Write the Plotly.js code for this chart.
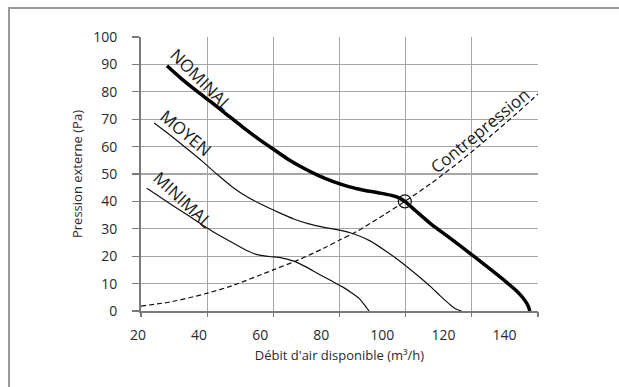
<!DOCTYPE html>
<html>
<head>
<meta charset="utf-8">
<script src="https://cdn.plot.ly/plotly-3.0.1.min.js"></script>
<style>
  html, body { margin: 0; padding: 0; background: #fff; }
  #wrap { position: relative; width: 619px; height: 387px; overflow: hidden; }
  #frame { position: absolute; left: 8px; top: 7px; width: 640px; height: 420px;
           border-top: 2px solid #9a9a9a; border-left: 2px solid #9a9a9a; box-sizing: border-box; }
  #chart { position: absolute; left: 0; top: 0; width: 619px; height: 387px; }
</style>
</head>
<body>
<div id="wrap"><div id="frame"></div><div id="chart"></div></div>
<script>
// ---- data ----
const nominalX = [28.5, 33, 38, 43, 48, 53, 58, 63, 68, 73, 78, 83, 88, 93, 98, 102, 104.5, 106.4, 110, 115, 120, 125, 130, 135, 140, 143, 145.5, 146.7, 147.2, 147.3];
const nominalY = [89.5, 85, 80.5, 76.2, 71.8, 67.4, 63.2, 59.3, 55.5, 52.3, 49.5, 47.2, 45.4, 44.1, 43.1, 42.2, 41.3, 40, 36.5, 31.7, 27.6, 23.4, 19.1, 14.7, 10.2, 7.3, 4.2, 2, 0.5, 0];

const moyenX = [24.3, 30, 35, 40, 45, 50, 55, 60, 65, 70, 75, 80, 85, 90, 95, 100, 105, 110, 115, 118, 121, 123, 125];
const moyenY = [68.6, 63.8, 59.3, 54.7, 49.8, 45.2, 41.5, 38.6, 36, 33.6, 31.8, 30.5, 29.5, 28, 25.6, 22, 18, 13.5, 8.7, 5.5, 2.5, 0.8, 0];

const minimalX = [21.9, 26, 30, 35, 40, 45, 50, 55, 58, 62, 66, 70, 74, 78, 82, 86, 89, 91.5, 93, 94, 94.7];
const minimalY = [44.8, 41.8, 38.8, 35.2, 31.5, 28, 24.9, 21.9, 20.6, 19.9, 19.4, 18.2, 16.1, 13.6, 11.2, 8.8, 6.6, 4.5, 2.5, 1, 0];

const contreX = [20, 30, 41.7, 50, 63.3, 71, 80, 85.2, 90.6, 100, 106.4, 115, 125, 135, 143, 150];
const contreY = [1.8, 3.4, 6.5, 9.3, 15, 18.4, 23, 26, 29, 35.4, 40, 46.6, 55.1, 64.4, 72.1, 79.2];

const pointX = [106.4];
const pointY = [40];

const xTickVals = [20, 40, 60, 80, 100, 120, 140];
const yTickVals = [0, 10, 20, 30, 40, 50, 60, 70, 80, 90, 100];
const xRange = [20, 150];
const yRange = [0, 100];

const labels = [
  {text: 'NOMINAL', x: 39.8, y: 84.5, angle: 45},
  {text: 'MOYEN', x: 34.6, y: 65.2, angle: 40},
  {text: 'MINIMAL', x: 33.8, y: 40.8, angle: 43},
  {text: 'Contrepression', x: 131, y: 65.8, angle: -39.5}
];

// vertical grid divides the range into 6 equal parts (as in the reference)
const gridX = [];
for (let k = 0; k <= 6; k++) gridX.push(xRange[0] + k * (xRange[1] - xRange[0]) / 6);

const FONT = '"Open Sans", "Noto Sans", sans-serif';
const AXC = '#7a7a7a', GRIDC = '#a6a6a6', TXT = '#2a2a2a';

const traces = [
  {x: contreX, y: contreY, mode: 'lines', line: {color: '#111', width: 1.2, dash: '5px,3px', shape: 'spline', smoothing: 0.8}},
  {x: minimalX, y: minimalY, mode: 'lines', line: {color: '#111', width: 1.2, shape: 'spline', smoothing: 0.7}},
  {x: moyenX, y: moyenY, mode: 'lines', line: {color: '#111', width: 1.2, shape: 'spline', smoothing: 0.7}},
  {x: nominalX, y: nominalY, mode: 'lines', line: {color: '#000', width: 3.5, shape: 'spline', smoothing: 0.7}},
  {x: pointX, y: pointY, mode: 'markers', marker: {symbol: 'circle-open', size: 13, color: '#111', line: {width: 1.2, color: '#111'}}}
];

const layout = {
  width: 619, height: 387,
  margin: {l: 141, r: 81, t: 37, b: 76},
  paper_bgcolor: 'rgba(0,0,0,0)', plot_bgcolor: 'rgba(0,0,0,0)',
  showlegend: false,
  font: {family: FONT, size: 14, color: TXT},
  xaxis: {
    range: xRange, tickvals: xTickVals, ticktext: xTickVals.map(String),
    showgrid: false, zeroline: false, showline: true, linecolor: AXC, linewidth: 2,
    ticks: '', ticklabelstandoff: 10, ticklabelshift: -3,
    tickfont: {family: FONT, size: 14, color: TXT},
    title: {text: "Débit d'air disponible (m³/h)", font: {family: FONT, size: 13, color: TXT}, standoff: 8}
  },
  xaxis2: {
    overlaying: 'x', side: 'bottom', range: xRange, tickvals: gridX,
    showticklabels: false, showgrid: true, gridcolor: GRIDC, gridwidth: 1.3,
    zeroline: false, showline: false, ticks: 'outside', ticklen: 5, tickcolor: AXC, tickwidth: 1.3
  },
  yaxis: {
    range: yRange, tickvals: yTickVals, showgrid: true, gridcolor: GRIDC, gridwidth: 1.3,
    zeroline: false, showline: true, linecolor: AXC, linewidth: 2,
    ticks: 'outside', ticklen: 7, tickcolor: AXC, tickwidth: 1.3, ticklabelstandoff: 12,
    tickfont: {family: FONT, size: 14, color: TXT},
    title: {text: 'Pression externe (Pa)', font: {family: FONT, size: 13, color: TXT}, standoff: 8}
  },
  annotations: labels.map(l => ({
    text: l.text, x: l.x, y: l.y, xref: 'x', yref: 'y', showarrow: false,
    textangle: l.angle, font: {family: FONT, size: 17, color: '#1a1a1a'}
  }))
};

// the overlay axis needs a trace so that its grid is drawn
traces.push({x: [xRange[0]], y: [yRange[0]], xaxis: 'x2', mode: 'markers', marker: {opacity: 0}, hoverinfo: 'skip'});

Plotly.newPlot('chart', traces, layout, {displayModeBar: false, staticPlot: true});
</script>
</body>
</html>
